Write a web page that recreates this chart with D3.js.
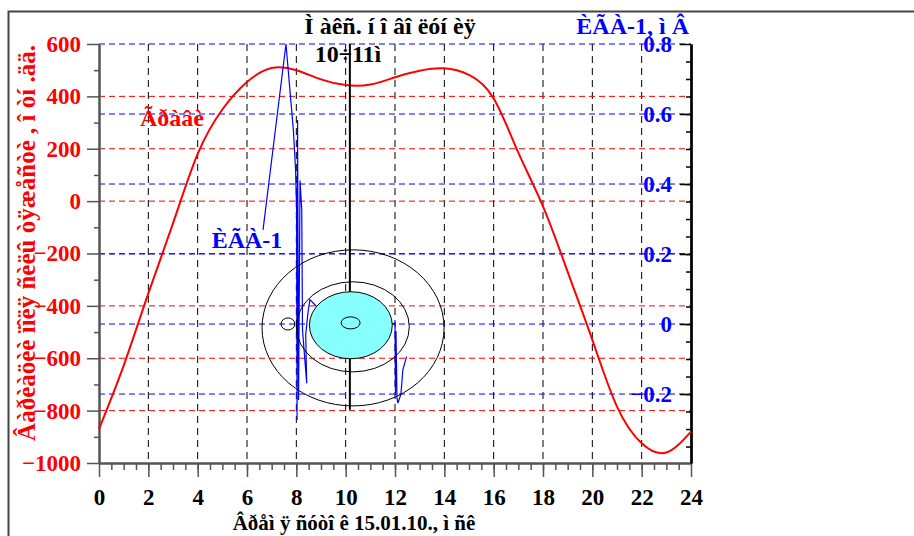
<!DOCTYPE html>
<html>
<head>
<meta charset="utf-8">
<script src="https://cdn.jsdelivr.net/npm/d3@7"></script>
<style>
  body { margin: 0; background: #fff; }
  svg { display: block; font-family: "Liberation Serif", "Times New Roman", serif; font-weight: bold; }
</style>
</head>
<body>
<div id="chart"></div>
<script>
// Time of day, hours
const hourTicks = [0, 2, 4, 6, 8, 10, 12, 14, 16, 18, 20, 22, 24];
const gravTicks = [600, 400, 200, 0, -200, -400, -600, -800, -1000];
const igaTicks = [0.8, 0.6, 0.4, 0.2, 0, -0.2];

// Gravity variations (red curve), one reading per hour
const gravHours = [0, 1, 2, 3, 4, 5, 6, 7, 8, 9, 10, 11, 12, 13, 14, 15, 16, 17, 18, 19, 20, 21, 22, 23, 24];
const gravValues = [-870, -628, -352, -85, 180, 350, 455, 508, 500, 465, 443, 445, 473, 498, 507, 482, 392, 185, -20, -270, -530, -785, -925, -960, -880];

// ИГА-1 signal, mV (blue line)
const igaHours = [6.65, 7.58, 7.88, 7.97, 8.01, 8.03, 8.05, 8.09, 8.15, 8.22, 8.25, 8.42, 8.38, 8.47, 8.55, 9.5, 11.0, 11.9, 12.0, 12.02, 12.04, 12.08, 12.12, 12.24, 12.32, 12.47];
const igaValues = [0.269, 0.8, 0.554, 0.44, 0.326, -0.274, 0.583, -0.217, 0.41, 0.326, -0.017, -0.169, -0.03, 0.031, 0.07, 0.0, 0.02, 0.0, 0.003, -0.203, -0.02, -0.211, -0.226, -0.2, -0.13, -0.093];

// Ellipses around new moon maximum: centre hour, centre gravity value, radius hours, radius gravity units
const ellipseCx = [10.30, 10.29, 10.21, 10.20, 7.66];
const ellipseCy = [-484, -480, -474, -465, -469];
const ellipseRx = [3.69, 2.29, 1.68, 0.385, 0.28];
const ellipseRy = [298, 172, 128, 23, 23];
const markerHour = 10.17;
const markerRange = [600, -797];

const width = 914, height = 536;
const svg = d3.select("#chart").append("svg")
  .attr("width", width).attr("height", height);

//#region Scales
const x = d3.scaleLinear().domain([0, 24]).range([99, 691]);
const yL = d3.scaleLinear().domain([-1000, 600]).range([463, 44]);
const yR = d3.scaleLinear().domain([-0.397, 0.8]).range([463, 44]);
//#endregion

// outer frame
svg.append("path")
  .attr("d", `M8.5,${height} V11.5 H${width}`)
  .attr("fill", "none").attr("stroke", "#444").attr("stroke-width", 2);

//#region Grid
const grid = svg.append("g");
grid.selectAll(".gv").data(hourTicks.slice(1, -1)).enter().append("line")
  .attr("x1", d => x(d)).attr("x2", d => x(d))
  .attr("y1", yL(600)).attr("y2", yL(-1000))
  .attr("stroke", "#000").attr("stroke-dasharray", "7,5");
grid.selectAll(".gr").data(gravTicks.slice(1, -1)).enter().append("line")
  .attr("x1", x(0)).attr("x2", x(24))
  .attr("y1", d => yL(d)).attr("y2", d => yL(d))
  .attr("stroke", "#f00").attr("stroke-dasharray", "6,4");
grid.selectAll(".gb").data(igaTicks).enter().append("line")
  .attr("x1", x(0)).attr("x2", x(24))
  .attr("y1", d => yR(d)).attr("y2", d => yR(d))
  .attr("stroke", "#00f").attr("stroke-dasharray", "6,4");
//#endregion

//#region Axes
const styleAxis = (g, col, textCol, size) => {
  g.selectAll("path").attr("stroke", col).attr("stroke-width", 2);
  g.selectAll("line").attr("stroke", col).attr("stroke-width", 1.5);
  g.selectAll("text").attr("fill", textCol).style("font-size", size + "px")
    .style("font-family", "Liberation Serif").style("font-weight", "bold");
};

const leftMinor = svg.append("g").attr("transform", `translate(${x(0)},0)`)
  .call(d3.axisLeft(yL).tickValues(d3.range(-900, 600, 200)).tickSize(5).tickSizeOuter(0).tickFormat(""));
styleAxis(leftMinor, "#555", "#f00", 23);
const leftAxis = svg.append("g").attr("transform", `translate(${x(0)},0)`)
  .call(d3.axisLeft(yL).tickValues(gravTicks).tickSize(12).tickSizeOuter(0).tickPadding(6).tickFormat(d3.format("d")));
styleAxis(leftAxis, "#555", "#f00", 23);

const bottomMinor = svg.append("g").attr("transform", `translate(0,${yL(-1000)})`)
  .call(d3.axisBottom(x).tickValues(d3.range(0.5, 24, 0.5)).tickSize(7).tickSizeOuter(0).tickFormat(""));
styleAxis(bottomMinor, "#555", "#000", 23);
const bottomAxis = svg.append("g").attr("transform", `translate(0,${yL(-1000)})`)
  .call(d3.axisBottom(x).tickValues(hourTicks).tickSize(14).tickSizeOuter(0).tickPadding(12).tickFormat(d3.format("d")));
styleAxis(bottomAxis, "#555", "#000", 23);

const rightMinor = svg.append("g").attr("transform", `translate(${x(24)},0)`)
  .call(d3.axisLeft(yR).tickValues(d3.range(-0.35, 0.8, 0.05)).tickSize(5).tickSizeOuter(0).tickFormat(""));
styleAxis(rightMinor, "#000", "#00f", 23);
const rightAxis = svg.append("g").attr("transform", `translate(${x(24)},0)`)
  .call(d3.axisLeft(yR).tickValues(igaTicks).tickSize(11).tickSizeOuter(0).tickPadding(8).tickFormat(d => d3.format("")(+d.toFixed(1))));
styleAxis(rightAxis, "#000", "#00f", 23);
rightAxis.select("path").attr("stroke-width", 2.5);
//#endregion

//#region Series
const gravData = gravHours.map((h, i) => [h, gravValues[i]]);
svg.append("path").datum(gravData)
  .attr("fill", "none").attr("stroke", "#f00").attr("stroke-width", 2)
  .attr("d", d3.line().x(d => x(d[0])).y(d => yL(d[1])).curve(d3.curveNatural));

const igaData = igaHours.map((h, i) => [h, igaValues[i]]);
svg.append("path").datum(igaData)
  .attr("fill", "none").attr("stroke", "#00f").attr("stroke-width", 1.2)
  .attr("d", d3.line().x(d => x(d[0])).y(d => yR(d[1])));
//#endregion

//#region New moon marker
svg.append("line")
  .attr("x1", x(markerHour)).attr("x2", x(markerHour))
  .attr("y1", yL(markerRange[0])).attr("y2", yL(markerRange[1]))
  .attr("stroke", "#000").attr("stroke-width", 2);

const ell = ellipseCx.map((cx, i) => ({ cx, cy: ellipseCy[i], rx: ellipseRx[i], ry: ellipseRy[i] }));
svg.selectAll(".ell").data(ell).enter().append("ellipse")
  .attr("cx", d => x(d.cx)).attr("cy", d => yL(d.cy))
  .attr("rx", d => x(d.rx) - x(0)).attr("ry", d => yL(0) - yL(d.ry))
  .attr("fill", (d, i) => i === 2 ? "#8ff" : "none")
  .attr("stroke", "#000").attr("stroke-width", 1);
//#endregion

//#region Labels
const label = (txt, px, py, col, size, anchor = "middle", rot = 0) =>
  svg.append("text").text(txt)
    .attr("transform", `translate(${px},${py}) rotate(${rot})`)
    .attr("text-anchor", anchor).attr("fill", col)
    .style("font-size", size + "px");

label("Ì  àêñ. í î âî ëóí èÿ", 390, 34, "#000", 24);
label("10÷11ì", 348, 62, "#000", 24);
label("ÈÃÀ-1, ì Â", 689, 34, "#00f", 24, "end");
label("Ãðàâè", 172, 126, "#f00", 24);
label("ÈÃÀ-1", 247, 248, "#00f", 24);
label("Âðåì ÿ ñóòî ê 15.01.10., ì ñê", 354, 530, "#000", 21);
label("Âàðèàöèè  ïîëÿ  ñèëû  òÿæåñòè ,  î òí .ää.", 35, 243, "#f00", 25, "middle", -90);
//#endregion
</script>
</body>
</html>
